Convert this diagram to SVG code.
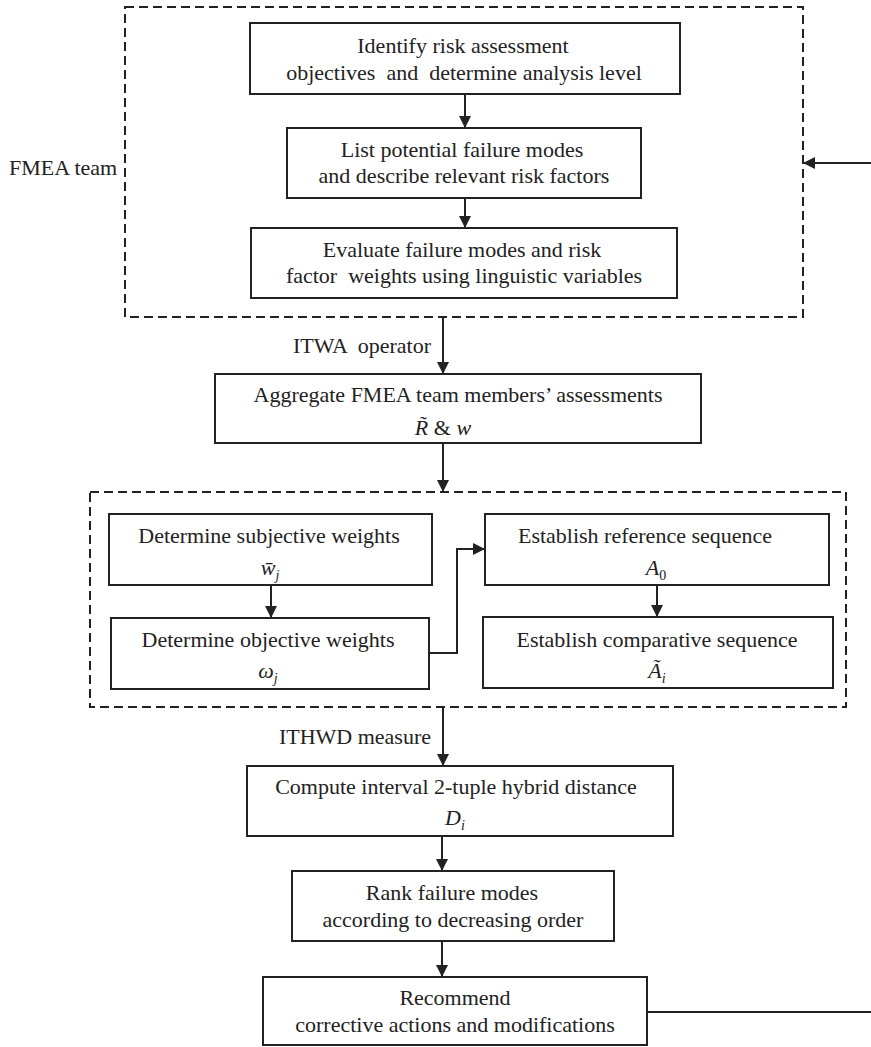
<svg xmlns="http://www.w3.org/2000/svg" width="871" height="1047" viewBox="0 0 871 1047" font-family="'Liberation Serif', 'DejaVu Serif', serif">
  <defs>
    <style>
      .box { fill: #ffffff; stroke: #222222; stroke-width: 2; }
      .group { fill: none; stroke: #222222; stroke-width: 2; stroke-dasharray: 9 5; }
      .link { fill: none; stroke: #222222; stroke-width: 2; }
      text { font-family: 'Liberation Serif', 'DejaVu Serif', serif; font-size: 22px; fill: #222222; white-space: pre; }
      .c { text-anchor: middle; }
      .m { font-style: italic; }
      .sub { font-size: 14px; }
    </style>
    <marker id="arrow" viewBox="0 0 12 12" refX="12" refY="6" markerWidth="12" markerHeight="12" markerUnits="userSpaceOnUse" orient="auto">
      <path d="M0,0 L12,6 L0,12 z" fill="#222222"/>
    </marker>
  </defs>

  <!-- dashed grouping frames -->
  <g id="frames">
    <rect id="team-frame" class="group" x="125" y="7" width="678" height="310"/>
    <rect id="weights-frame" class="group" x="90" y="492" width="756" height="215"/>
  </g>

  <text id="team-label" x="9" y="175">FMEA team</text>

  <g id="n-identify">
    <rect class="box" x="250" y="23" width="430" height="71"/>
    <text class="c" x="463" y="53">Identify risk assessment</text>
    <text class="c" x="464" y="80" xml:space="preserve">objectives  and  determine analysis level</text>
  </g>

  <g id="n-list">
    <rect class="box" x="287" y="128" width="354" height="70"/>
    <text class="c" x="462" y="157">List potential failure modes</text>
    <text class="c" x="464" y="183">and describe relevant risk factors</text>
  </g>

  <g id="n-evaluate">
    <rect class="box" x="251" y="228" width="426" height="70"/>
    <text class="c" x="462" y="257">Evaluate failure modes and risk</text>
    <text class="c" x="464" y="283" xml:space="preserve">factor  weights using linguistic variables</text>
  </g>

  <g id="n-aggregate">
    <rect class="box" x="215" y="374" width="486" height="69"/>
    <text class="c" x="458" y="402">Aggregate FMEA team members’ assessments</text>
    <text class="c" x="443" y="435"><tspan class="m">R̃</tspan> &amp; <tspan class="m">w</tspan></text>
  </g>

  <g id="n-subjective">
    <rect class="box" x="109" y="514" width="323" height="71"/>
    <text class="c" x="269" y="543">Determine subjective weights</text>
    <text class="c" x="270" y="575"><tspan class="m">w̄</tspan><tspan class="m sub" dy="5">j</tspan></text>
  </g>

  <g id="n-objective">
    <rect class="box" x="111" y="618" width="318" height="71"/>
    <text class="c" x="268" y="647">Determine objective weights</text>
    <text class="c" x="268" y="678"><tspan class="m">ω</tspan><tspan class="m sub" dy="5">j</tspan></text>
  </g>

  <g id="n-reference">
    <rect class="box" x="485" y="514" width="344" height="71"/>
    <text class="c" x="645" y="543">Establish reference sequence</text>
    <text class="c" x="656" y="575"><tspan class="m">A</tspan><tspan class="sub" dy="5">0</tspan></text>
  </g>

  <g id="n-comparative">
    <rect class="box" x="483" y="617" width="350" height="71"/>
    <text class="c" x="657" y="647">Establish comparative sequence</text>
    <text class="c" x="657" y="678"><tspan class="m">Ã</tspan><tspan class="m sub" dy="5">i</tspan></text>
  </g>

  <g id="n-distance">
    <rect class="box" x="247" y="766" width="426" height="70"/>
    <text class="c" x="456" y="794">Compute interval 2-tuple hybrid distance</text>
    <text class="c" x="455" y="825"><tspan class="m">D</tspan><tspan class="m sub" dy="5">i</tspan></text>
  </g>

  <g id="n-rank">
    <rect class="box" x="292" y="871" width="322" height="70"/>
    <text class="c" x="452" y="900">Rank failure modes</text>
    <text class="c" x="453" y="927">according to decreasing order</text>
  </g>

  <g id="n-recommend">
    <rect class="box" x="263" y="977" width="384" height="68"/>
    <text class="c" x="455" y="1005">Recommend</text>
    <text class="c" x="455" y="1032">corrective actions and modifications</text>
  </g>

  <!-- operator labels beside the flow -->
  <text id="lbl-itwa" x="431" y="353" text-anchor="end" xml:space="preserve">ITWA  operator</text>
  <text id="lbl-ithwd" x="431" y="744" text-anchor="end">ITHWD measure</text>

  <g id="connectors">
    <path class="link" d="M465,94 V128" marker-end="url(#arrow)"/>
    <path class="link" d="M465,198 V228" marker-end="url(#arrow)"/>
    <path class="link" d="M443,317 V374" marker-end="url(#arrow)"/>
    <path class="link" d="M443,443 V492" marker-end="url(#arrow)"/>
    <path class="link" d="M271,585 V618" marker-end="url(#arrow)"/>
    <path class="link" d="M657,585 V617" marker-end="url(#arrow)"/>
    <path class="link" d="M429,653 H457 V549 H485" marker-end="url(#arrow)"/>
    <path class="link" d="M443,707 V766" marker-end="url(#arrow)"/>
    <path class="link" d="M442,836 V871" marker-end="url(#arrow)"/>
    <path class="link" d="M442,941 V977" marker-end="url(#arrow)"/>
    <path class="link" d="M647,1012 H880 V163 H803" marker-end="url(#arrow)"/>
  </g>
</svg>
